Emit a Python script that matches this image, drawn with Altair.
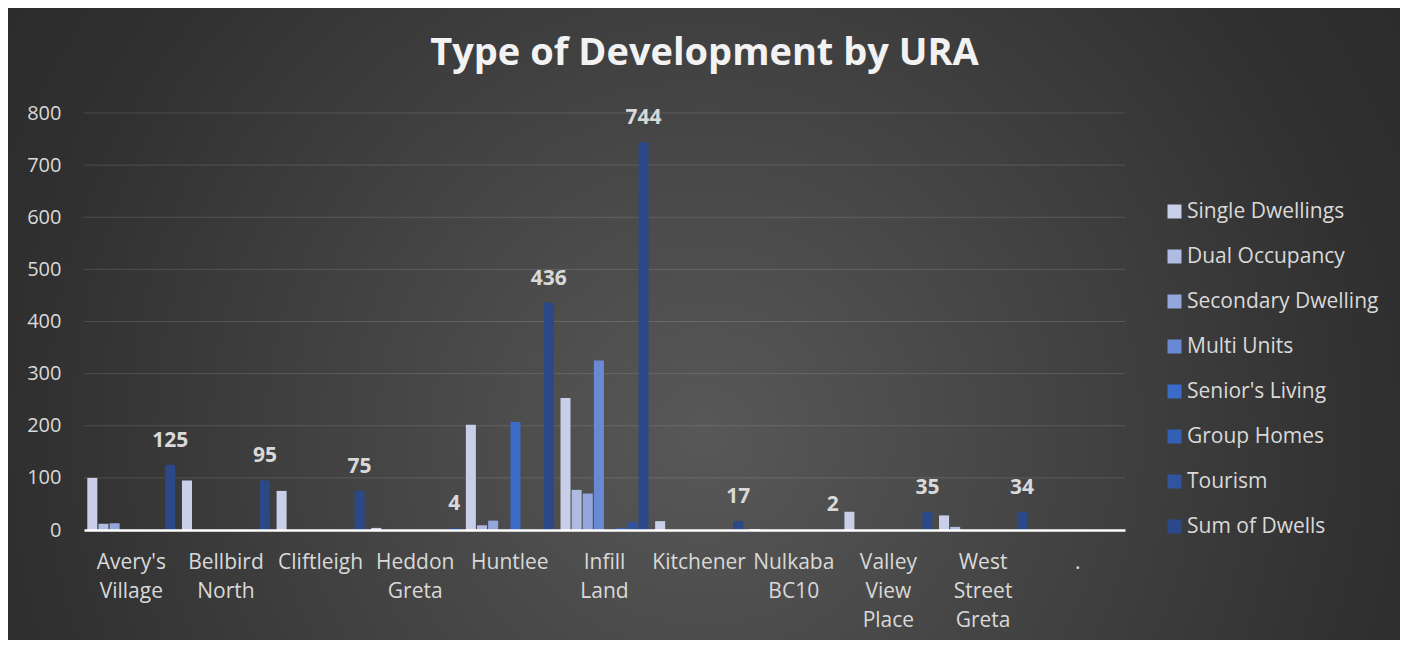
import altair as alt
import pandas as pd

categories = ["Avery's Village", "Bellbird North", "Cliftleigh", "Heddon Greta", "Huntlee",
              "Infill Land", "Kitchener", "Nulkaba BC10", "Valley View Place", "West Street Greta", "."]
series = ["Single Dwellings", "Dual Occupancy", "Secondary Dwelling", "Multi Units",
          "Senior's Living", "Group Homes", "Tourism", "Sum of Dwells"]
colors = ["#c9cfe8", "#b0bbe2", "#93a7dc", "#6a89d5", "#3a6bc8", "#3360b5", "#32549e", "#2b4988"]

single_dwellings = [100, 95, 75, 4, 202, 253, 17, 2, 35, 28, 0]
dual_occupancy = [12, 0, 0, 0, 9, 77, 0, 0, 0, 6, 0]
secondary_dwelling = [13, 0, 0, 0, 18, 70, 0, 0, 0, 0, 0]
multi_units = [0, 0, 0, 0, 0, 325, 0, 0, 0, 0, 0]
seniors_living = [0, 0, 0, 0, 207, 0, 0, 0, 0, 0, 0]
group_homes = [0, 0, 0, 0, 0, 4, 0, 0, 0, 0, 0]
tourism = [0, 0, 0, 0, 0, 15, 0, 0, 0, 0, 0]
sum_of_dwells = [125, 95, 75, 4, 436, 744, 17, 2, 35, 34, 0]

y_ticks = [0, 100, 200, 300, 400, 500, 600, 700, 800]

all_series = [single_dwellings, dual_occupancy, secondary_dwelling, multi_units,
              seniors_living, group_homes, tourism, sum_of_dwells]
rows = []
for s, vals in zip(series, all_series):
    for c, v in zip(categories, vals):
        rows.append({"ura": c, "series": s, "value": v})
df = pd.DataFrame(rows)
grid_df = pd.DataFrame({"value": y_ticks[1:]})

W, H = 1041, 417
PAD = {"left": 76, "top": 105, "right": 275, "bottom": 110}
FONT = "Open Sans"
TXT = "#d9d9d9"

y_scale = alt.Scale(domain=[0, 800])
y_axis = alt.Axis(values=y_ticks, title=None, grid=False, ticks=False, domain=False,
                  labelFontSize=20, labelColor=TXT, labelFont=FONT, labelPadding=23, zindex=1)

x_enc = alt.X("ura:N", sort=categories,
              scale=alt.Scale(domain=categories, paddingInner=0.07, paddingOuter=0.035),
              axis=alt.Axis(title=None, labelAngle=0, ticks=False, domainColor="white",
                            domainWidth=2.5, labelFontSize=21, labelColor=TXT, labelFont=FONT,
                            labelPadding=21, labelLineHeight=29,
                            labelExpr="split(datum.label, ' ')", zindex=1))
xoff_enc = alt.XOffset("series:N", sort=series,
                       scale=alt.Scale(domain=series, paddingInner=0.1, paddingOuter=0))

bg = alt.Chart(alt.Data(values=[{"a": 1}])).mark_rect(
    color={"gradient": "radial",
           "x1": 0.5, "y1": 0.58, "r1": 0,
           "x2": 0.5, "y2": 0.58, "r2": 0.75,
           "stops": [{"offset": 0, "color": "#585858"},
                     {"offset": 0.65, "color": "#303030"},
                     {"offset": 1, "color": "#252525"}]}
).encode(
    x=alt.value(-PAD["left"]), x2=alt.value(W + PAD["right"]),
    y=alt.value(-PAD["top"]), y2=alt.value(H + PAD["bottom"])
)

grid = alt.Chart(grid_df).mark_rule(color="white", opacity=0.13, strokeWidth=1).encode(
    y=alt.Y("value:Q", scale=y_scale, axis=y_axis)
)

bars = alt.Chart(df).mark_bar().encode(
    x=x_enc,
    xOffset=xoff_enc,
    y=alt.Y("value:Q", scale=y_scale, axis=y_axis),
    color=alt.Color("series:N", sort=series,
                    scale=alt.Scale(domain=series, range=colors),
                    legend=alt.Legend(orient="none", legendX=1080, legendY=88, title=None,
                                      symbolType="square", symbolSize=196, symbolStrokeWidth=0,
                                      labelFontSize=21, labelColor=TXT, labelFont=FONT,
                                      labelLimit=400, rowPadding=23, labelOffset=2, zindex=1)),
)

labels = alt.Chart(df).transform_filter(
    (alt.datum.series == "Sum of Dwells") & (alt.datum.value > 0)
).mark_text(font=FONT, fontSize=21, fontWeight="bold", color=TXT,
            baseline="alphabetic", dy=-18).encode(
    x=x_enc,
    xOffset=xoff_enc,
    y=alt.Y("value:Q", scale=y_scale, axis=y_axis),
    text=alt.Text("value:Q"),
)

chart = alt.layer(bg, grid, bars, labels).properties(
    width=W, height=H,
    autosize=alt.AutoSizeParams(type="none"),
    padding=PAD,
    background="#2b2b2b",
    title=alt.TitleParams(text="Type of Development by URA", font=FONT, fontSize=38,
                          fontWeight="bold", color="#f2f2f2", anchor="middle", dx=100,
                          baseline="alphabetic", offset=41, dy=136, zindex=1),
).configure_view(stroke=None)

chart.save("out.html", embed_options={"renderer": "svg", "actions": False})
